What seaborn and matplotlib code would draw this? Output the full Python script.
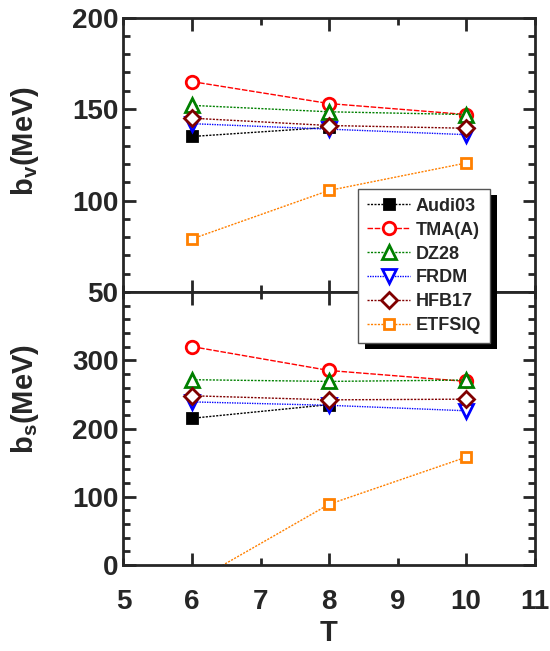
import matplotlib
matplotlib.use("Agg")
import matplotlib.pyplot as plt
import seaborn as sns
import pandas as pd
from matplotlib.ticker import MultipleLocator
from matplotlib.patches import Rectangle

# data
T = [6, 8, 10]
models = ["Audi03", "TMA(A)", "DZ28", "FRDM", "HFB17", "ETFSIQ"]
bv_audi03 = [135, 140, None]
bv_tma = [165, 153, 147]
bv_dz28 = [152, 148.5, 147]
bv_frdm = [142, 139, 136]
bv_hfb17 = [145, 141, 139.5]
bv_etfsiq = [79, 105.5, 120.5]
bs_audi03 = [215, 235, None]
bs_tma = [320, 285, 269]
bs_dz28 = [271.5, 269, 271]
bs_frdm = [239, 234, 226]
bs_hfb17 = [248, 242, 243]
bs_etfsiq = [-26, 89, 158]

bv = [bv_audi03, bv_tma, bv_dz28, bv_frdm, bv_hfb17, bv_etfsiq]
bs = [bs_audi03, bs_tma, bs_dz28, bs_frdm, bs_hfb17, bs_etfsiq]

colors = ["black", "#ff0000", "#008000", "#0000ff", "#800000", "#ff8000"]
markers = ["s", "o", "^", "v", "D", "s"]
msizes = [7, 9, 10, 10, 8.5, 7]
styles = [(0, (1.5, 1)), (0, (4, 1.2)), (0, (1.5, 1)), (0, (1, 0.8)), (0, (1.5, 1)), (0, (1.5, 1))]

sns.set_style("ticks")
plt.rcParams["font.family"] = ["Liberation Sans", "DejaVu Sans"]
plt.rcParams["font.weight"] = "bold"
plt.rcParams["mathtext.fontset"] = "custom"
plt.rcParams["mathtext.rm"] = "Liberation Sans:bold"
plt.rcParams["mathtext.bf"] = "Liberation Sans:bold"
plt.rcParams["mathtext.it"] = "Liberation Sans:bold"

fig = plt.figure(figsize=(5.5, 6.51), dpi=100)
ax1 = fig.add_axes([0.2245, 0.5515, 0.7475, 0.4215])
ax2 = fig.add_axes([0.2245, 0.132, 0.7475, 0.4195])


def draw(ax, series):
    for name, vals, c, m, ms, ls in zip(models, series, colors, markers, msizes, styles):
        df = pd.DataFrame({"T": T, "val": vals}).dropna()
        face = c if name == "Audi03" else "white"
        sns.lineplot(data=df, x="T", y="val", ax=ax, color=c, marker=m, markersize=ms,
                     markerfacecolor=face, markeredgecolor=c, markeredgewidth=2,
                     linestyle=ls, linewidth=1, label=name, legend=False)


draw(ax1, bv)
draw(ax2, bs)

for ax in (ax1, ax2):
    ax.set_xlim(5, 11)
    ax.set_xticks([6, 8, 10])
    ax.set_xticks([5, 7, 9, 11], minor=True)
    ax.tick_params(which="both", direction="in", top=True, right=True, width=2,
                   labelsize=20)
    ax.tick_params(which="major", length=9)
    ax.tick_params(which="minor", length=5)
    for s in ax.spines.values():
        s.set_linewidth(2)
    ax.set_xlabel("")

ax1.set_ylim(50, 200)
ax1.yaxis.set_major_locator(MultipleLocator(50))
ax1.yaxis.set_minor_locator(MultipleLocator(10))
ax1.tick_params(axis="x", which="both", labelbottom=False)
ax1.set_ylabel(r"b$_\mathregular{v}$(MeV)", fontsize=21, fontweight="bold")
ax1.yaxis.set_label_coords(-0.20, 0.55)

ax2.set_ylim(0, 400)
ax2.set_yticks([0, 100, 200, 300])
ax2.yaxis.set_minor_locator(MultipleLocator(20))
ax2.set_xticklabels(["6", "8", "10"], fontweight="bold")
ax2.set_xticklabels(["5", "7", "9", "11"], minor=True, fontweight="bold")
ax2.tick_params(axis="x", which="both", pad=17)
ax2.set_ylabel(r"b$_\mathregular{s}$(MeV)", fontsize=21, fontweight="bold")
ax2.yaxis.set_label_coords(-0.20, 0.61)
ax2.set_xlabel("T", fontsize=21, fontweight="bold", labelpad=3)

for ax in (ax1, ax2):
    for lab in ax.get_yticklabels():
        lab.set_fontweight("bold")

handles, labels = ax1.get_legend_handles_labels()
leg = fig.legend(handles, labels, loc="upper left", bbox_to_anchor=(0.651, 0.71),
                 borderaxespad=0, frameon=True, fancybox=False, framealpha=1,
                 facecolor="white",
                 prop={"weight": "bold", "size": 13}, handlelength=2.4,
                 labelspacing=0.38, borderpad=0.5, handletextpad=0.3)
leg.get_frame().set_edgecolor("#555555")
leg.get_frame().set_linewidth(1)
leg.set_zorder(6)

# black drop shadow offset down/right, like the reference
fig.canvas.draw()
bb = leg.get_window_extent()
W, H = fig.bbox.width, fig.bbox.height
shadow = Rectangle(((bb.x0 + 7) / W, (bb.y0 - 6) / H), bb.width / W, bb.height / H,
                   transform=fig.transFigure, facecolor="black", edgecolor="none",
                   zorder=5.5)
fig.add_artist(shadow)

fig.savefig("out.png", dpi=100)
